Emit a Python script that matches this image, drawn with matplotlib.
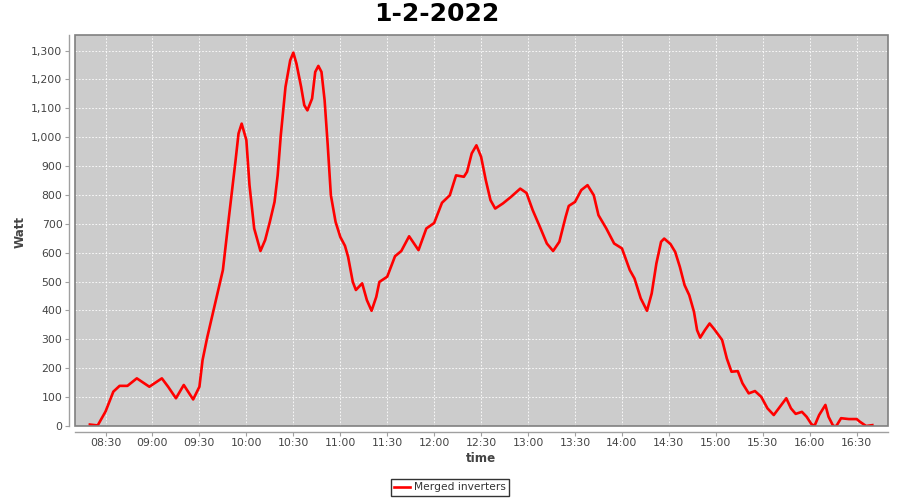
import pandas as pd
import matplotlib
matplotlib.use('Agg')
import matplotlib.pyplot as plt
import matplotlib.dates as mdates
from matplotlib.patches import Rectangle
from matplotlib.ticker import FuncFormatter, MultipleLocator

# Leituras (hora, potência em W) - 1-2-2022
horas = ['08:20', '08:25', '08:30', '08:35', '08:39', '08:44', '08:50', '08:58',
         '09:06', '09:10', '09:15', '09:20', '09:26', '09:30', '09:32', '09:35',
         '09:40', '09:45', '09:49', '09:53', '09:55', '09:57', '10:00', '10:02',
         '10:05', '10:09', '10:12', '10:15', '10:18', '10:20', '10:22', '10:25',
         '10:28', '10:30', '10:32', '10:35', '10:37', '10:39', '10:42', '10:44',
         '10:46', '10:48', '10:50', '10:52', '10:54', '10:57', '11:00', '11:03',
         '11:05', '11:08', '11:10', '11:14', '11:17', '11:20', '11:23', '11:25',
         '11:30', '11:35', '11:39', '11:44', '11:50', '11:55', '12:00', '12:05',
         '12:10', '12:14', '12:19', '12:21', '12:24', '12:27', '12:30', '12:33',
         '12:36', '12:39', '12:44', '12:49', '12:55', '12:59', '13:03', '13:08',
         '13:12', '13:16', '13:20', '13:24', '13:26', '13:30', '13:34', '13:38',
         '13:42', '13:45', '13:50', '13:55', '14:00', '14:05', '14:08', '14:12',
         '14:16', '14:19', '14:22', '14:25', '14:27', '14:31', '14:34', '14:37',
         '14:40', '14:43', '14:46', '14:48', '14:50', '14:53', '14:56', '14:59',
         '15:04', '15:07', '15:10', '15:14', '15:17', '15:21', '15:25', '15:29',
         '15:33', '15:37', '15:41', '15:45', '15:48', '15:51', '15:55', '15:58',
         '16:01', '16:03', '16:06', '16:10', '16:12', '16:15', '16:17', '16:20',
         '16:25', '16:30', '16:32', '16:36', '16:40']
watt = [5, 2, 50, 119, 139, 139, 165, 136,
        165, 136, 96, 142, 92, 136, 228, 307,
        424, 540, 730, 915, 1013, 1047, 990, 834,
        684, 606, 644, 707, 776, 868, 1007, 1174,
        1266, 1293, 1255, 1174, 1111, 1093, 1134, 1226,
        1247, 1226, 1128, 972, 799, 707, 655, 624,
        586, 499, 471, 494, 436, 399, 447, 499,
        517, 588, 606, 657, 609, 684, 703, 773,
        799, 868, 863, 880, 944, 972, 932, 851,
        782, 753, 771, 793, 822, 807, 747, 684,
        632, 606, 638, 724, 762, 776, 817, 834,
        799, 730, 684, 632, 615, 540, 511, 442,
        399, 459, 563, 638, 649, 630, 603, 551,
        488, 453, 396, 332, 306, 332, 355, 335,
        298, 234, 188, 190, 148, 113, 121, 101,
        61, 38, 67, 96, 61, 42, 49, 32,
        7, 0, 38, 73, 32, 0, 0, 27,
        24, 24, 15, 0, 3]

ticks_x = ['08:30', '09:00', '09:30', '10:00', '10:30', '11:00', '11:30', '12:00',
           '12:30', '13:00', '13:30', '14:00', '14:30', '15:00', '15:30', '16:00', '16:30']

dia = '2022-02-01 '
t = pd.to_datetime([dia + h for h in horas])

fig = plt.figure(figsize=(9, 5), dpi=100)
ax = fig.add_axes([75/900, 1 - 426/500, (888 - 75)/900, (426 - 35)/500])
ax.set_facecolor('#cccccc')

ax.plot(t, watt, color='#ff0000', linewidth=1.9, label='Merged inverters',
        solid_joinstyle='round', zorder=3)

ax.set_xlim(pd.Timestamp(dia + '08:10:30'), pd.Timestamp(dia + '16:50'))
ax.set_ylim(0, 1354)

ax.set_xticks(pd.to_datetime([dia + h for h in ticks_x]))
ax.xaxis.set_major_formatter(mdates.DateFormatter('%H:%M'))
ax.yaxis.set_major_locator(MultipleLocator(100))
ax.yaxis.set_major_formatter(FuncFormatter(lambda v, p: f'{int(v):,}'))

ax.grid(True, color='white', linestyle=(0, (2, 2)), linewidth=0.6)
ax.set_axisbelow(True)

# eixos estilo JFreeChart: linha separada da borda do gráfico
for s in ['top', 'right']:
    ax.spines[s].set_visible(False)
for s in ['left', 'bottom']:
    ax.spines[s].set_position(('outward', 4))
    ax.spines[s].set_color('#a0a0a0')
    ax.spines[s].set_linewidth(1)
ax.add_patch(Rectangle((0, 0), 1, 1, transform=ax.transAxes, fill=False,
                       edgecolor='#808080', linewidth=1.2, clip_on=False, zorder=4))

ax.tick_params(axis='both', length=3, width=0.8, color='#a0a0a0',
               labelsize=7.8, labelcolor='#444444', pad=2)

fig.text(437/900, 1 - 14/500, '1-2-2022', ha='center', va='center',
         fontsize=18, fontweight='bold', color='black')
fig.text(481/900, 1 - 459/500, 'time', ha='center', va='center',
         fontsize=8.6, fontweight='bold', color='#444444')
fig.text(20/900, 1 - 232/500, 'Watt', ha='center', va='center', rotation=90,
         fontsize=8.6, fontweight='bold', color='#444444')

leg = fig.legend(loc='center', bbox_to_anchor=(450/900, 1 - 487.5/500),
                 fontsize=7.7, frameon=True, fancybox=False, handlelength=1.5,
                 handletextpad=0.3, borderpad=0.3, borderaxespad=0)
leg.get_frame().set_edgecolor('black')
leg.get_frame().set_linewidth(1)
for txt in leg.get_texts():
    txt.set_color('#333333')

fig.savefig('out.png', dpi=100)
